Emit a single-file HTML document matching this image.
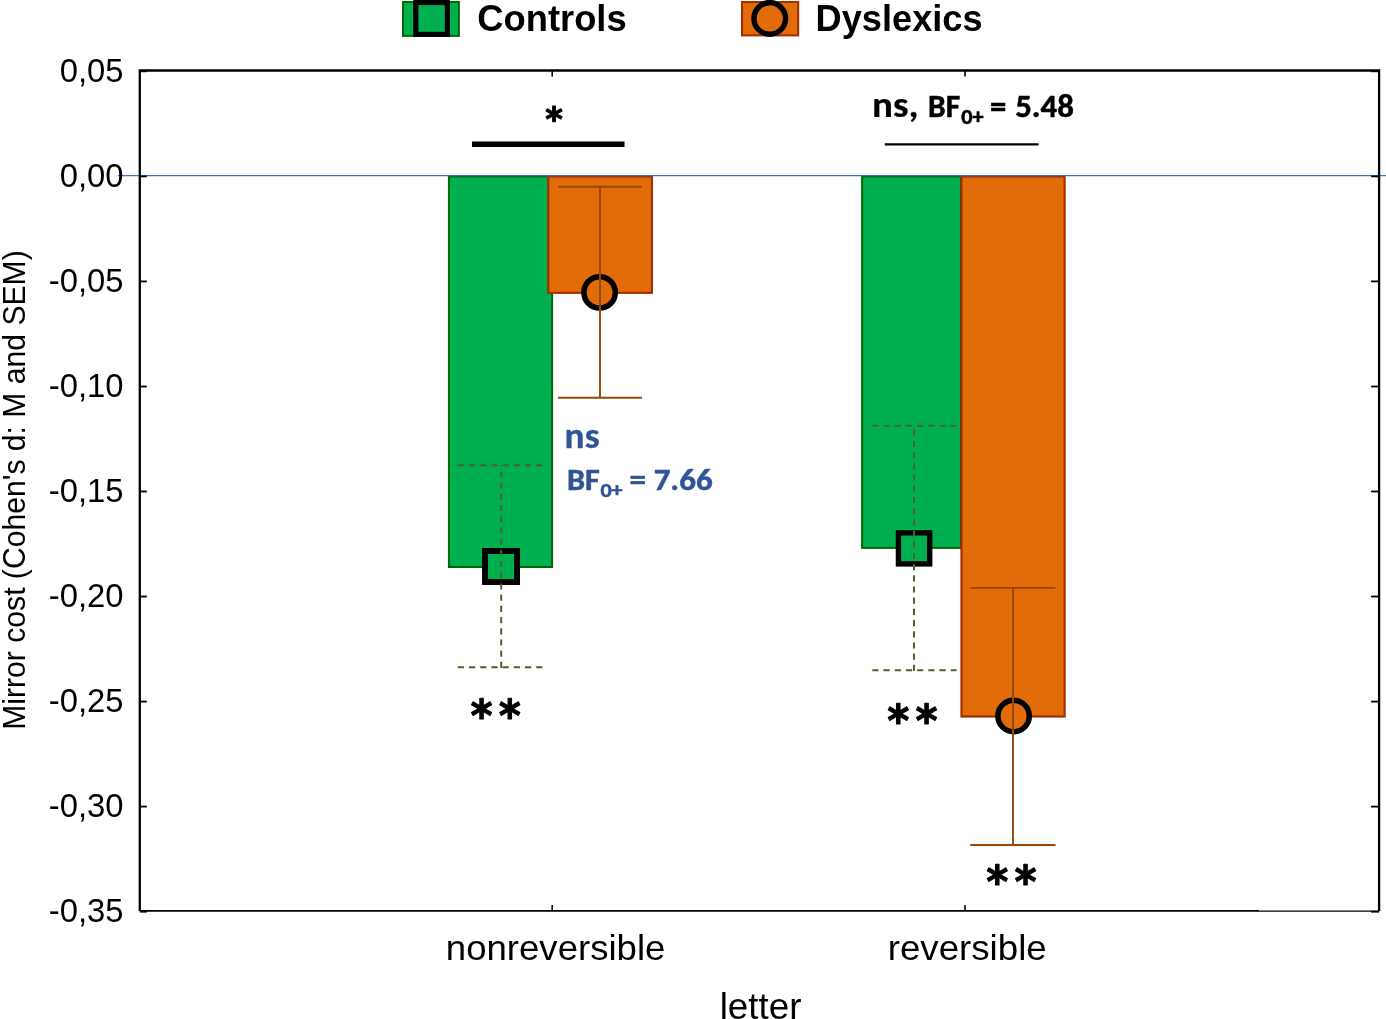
<!DOCTYPE html>
<html lang="en"><head><meta charset="utf-8"><title>Mirror cost chart</title>
<style>html,body{margin:0;padding:0;background:#fff;overflow:hidden}svg{display:block}.ar{font-family:"Liberation Sans",Arial,sans-serif}.st{font-family:"DejaVu Sans Mono","DejaVu Sans",sans-serif;font-weight:bold}.cb{font-family:Carlito,Calibri,"Liberation Sans",sans-serif;font-weight:bold}</style></head><body>
<svg width="1386" height="1019" viewBox="0 0 1386 1019">
<rect x="0" y="0" width="1386" height="1019" fill="#fff"/>
<rect x="448.9" y="176.45" width="103.20" height="390.55" fill="#00B050" stroke="#006800" stroke-width="2"/>
<rect x="548.3" y="176.45" width="103.65" height="116.40" fill="#E36C0A" stroke="#A52C00" stroke-width="2.1"/>
<rect x="862.1" y="176.45" width="98.90" height="371.45" fill="#00B050" stroke="#006800" stroke-width="2"/>
<rect x="961.5" y="176.45" width="103.10" height="540.05" fill="#E36C0A" stroke="#A52C00" stroke-width="2.2"/>
<line x1="118" y1="175.6" x2="1386" y2="175.6" stroke="#4472C4" stroke-width="1.15"/>
<g stroke="#000" fill="none">
<path d="M139.8 910.9 V70.5 H1379.1 V910.9" stroke-width="2.3" stroke-linejoin="miter"/>
<line x1="139.8" y1="910.9" x2="1259" y2="910.9" stroke-width="1.9"/>
<line x1="1259" y1="911.1" x2="1379.1" y2="911.1" stroke-width="1.3"/>
<line x1="139.8" y1="71.3" x2="146.8" y2="71.3" stroke-width="1.8"/>
<line x1="1371.1" y1="71.3" x2="1379.1" y2="71.3" stroke-width="1.8"/>
<line x1="139.8" y1="176.4" x2="146.8" y2="176.4" stroke-width="1.8"/>
<line x1="1371.1" y1="176.4" x2="1379.1" y2="176.4" stroke-width="1.8"/>
<line x1="139.8" y1="281.4" x2="146.8" y2="281.4" stroke-width="1.8"/>
<line x1="1371.1" y1="281.4" x2="1379.1" y2="281.4" stroke-width="1.8"/>
<line x1="139.8" y1="386.5" x2="146.8" y2="386.5" stroke-width="1.8"/>
<line x1="1371.1" y1="386.5" x2="1379.1" y2="386.5" stroke-width="1.8"/>
<line x1="139.8" y1="491.5" x2="146.8" y2="491.5" stroke-width="1.8"/>
<line x1="1371.1" y1="491.5" x2="1379.1" y2="491.5" stroke-width="1.8"/>
<line x1="139.8" y1="596.5" x2="146.8" y2="596.5" stroke-width="1.8"/>
<line x1="1371.1" y1="596.5" x2="1379.1" y2="596.5" stroke-width="1.8"/>
<line x1="139.8" y1="701.6" x2="146.8" y2="701.6" stroke-width="1.8"/>
<line x1="1371.1" y1="701.6" x2="1379.1" y2="701.6" stroke-width="1.8"/>
<line x1="139.8" y1="806.6" x2="146.8" y2="806.6" stroke-width="1.8"/>
<line x1="1371.1" y1="806.6" x2="1379.1" y2="806.6" stroke-width="1.8"/>
<line x1="139.8" y1="911.7" x2="146.8" y2="911.7" stroke-width="1.8"/>
<line x1="1371.1" y1="911.7" x2="1379.1" y2="911.7" stroke-width="1.8"/>
<line x1="552.2" y1="910.9" x2="552.2" y2="904.9" stroke-width="1.6"/>
<line x1="552.2" y1="70.5" x2="552.2" y2="76.5" stroke-width="1.6"/>
<line x1="965" y1="910.9" x2="965" y2="904.9" stroke-width="1.6"/>
<line x1="965" y1="70.5" x2="965" y2="76.5" stroke-width="1.6"/>
</g>
<g class="ar" font-size="32.8" text-anchor="end" fill="#000">
<text x="123.6" y="81.6">0,05</text>
<text x="123.6" y="186.7">0,00</text>
<text x="123.6" y="291.7">-0,05</text>
<text x="123.6" y="396.8">-0,10</text>
<text x="123.6" y="501.8">-0,15</text>
<text x="123.6" y="606.9">-0,20</text>
<text x="123.6" y="711.9">-0,25</text>
<text x="123.6" y="816.9">-0,30</text>
<text x="123.6" y="922.0">-0,35</text>
</g>
<text class="ar" font-size="30.5" transform="translate(24.6,490) rotate(-90)" text-anchor="middle" textLength="479.5" lengthAdjust="spacingAndGlyphs">Mirror cost (Cohen's d: M and SEM)</text>
<g class="ar" font-size="36" text-anchor="middle" fill="#000">
<text x="555.6" y="960.1" font-size="34.6" textLength="219.6" lengthAdjust="spacingAndGlyphs">nonreversible</text>
<text x="967.2" y="960.1" font-size="34.6" textLength="159" lengthAdjust="spacingAndGlyphs">reversible</text>
<text x="760.6" y="1018.5" textLength="81.8" lengthAdjust="spacingAndGlyphs">letter</text>
</g>
<rect x="485" y="551" width="32.05" height="31.05" fill="#00B050"/>
<rect x="898.45" y="532.85" width="31.25" height="31.05" fill="#00B050"/>
<circle cx="599.7" cy="292.6" r="15.5" fill="#E36C0A"/>
<circle cx="1013.6" cy="716" r="15.5" fill="#E36C0A"/>
<g stroke="#000" stroke-width="5.2" fill="none">
<rect x="485" y="551" width="32.05" height="31.05" stroke-width="5.9"/>
<rect x="898.45" y="532.85" width="31.25" height="31.05" stroke-width="5.4"/>
<circle cx="599.6" cy="292.4" r="15.7" stroke-width="5.5"/>
<circle cx="1013.6" cy="716" r="15.7" stroke-width="5.5"/>
</g>
<g stroke="#4F6228" stroke-width="2" fill="none" stroke-dasharray="6.2 5">
<path d="M457.8 465.2 H543.2 M501.2 668 V465.2 M457.8 667.2 H543.2"/>
<path d="M872.3 425.8 H956.5 M914 671 V425.8 M872.3 670.2 H956.5"/>
</g>
<g stroke="#974806" stroke-width="1.9" fill="none">
<path d="M558 186.7 H642 M600 186.7 V397.7 M558 397.7 H642"/>
<path d="M970.3 587.9 H1055.5 M1013 587.9 V845 M970.3 845 H1055.5"/>
</g>
<rect x="403" y="2" width="55.9" height="33.9" fill="#00B050" stroke="#006800" stroke-width="2"/>
<rect x="415.8" y="2.5" width="31.6" height="31.9" fill="#00B050" stroke="#000" stroke-width="5.2"/>
<rect x="742" y="2" width="56.2" height="33.4" fill="#E36C0A" stroke="#A52C00" stroke-width="2"/>
<circle cx="769.75" cy="18.4" r="15.8" fill="#E36C0A" stroke="#000" stroke-width="5.4"/>
<g class="ar" font-size="36" font-weight="bold" fill="#000">
<text x="477.2" y="31.4" textLength="149.5" lengthAdjust="spacingAndGlyphs">Controls</text>
<text x="815.6" y="31.4" textLength="167" lengthAdjust="spacingAndGlyphs">Dyslexics</text>
</g>
<line x1="472" y1="144.2" x2="624.5" y2="144.2" stroke="#000" stroke-width="5.6"/>
<line x1="884.8" y1="144.4" x2="1038.6" y2="144.4" stroke="#000" stroke-width="2.4"/>
<g class="cb" fill="#000" stroke="#000" stroke-linejoin="round">
<text x="871.96" y="116.8" font-size="36.5" textLength="46.54" lengthAdjust="spacingAndGlyphs" stroke-width="0.2">ns,</text>
<text x="928.05" y="116.8" font-size="33" textLength="32.09" lengthAdjust="spacingAndGlyphs" stroke-width="0.5">BF</text>
<text x="961.2" y="124" font-size="22" textLength="22.36" lengthAdjust="spacingAndGlyphs" stroke-width="0.5">0+</text>
<text x="990.11" y="116.8" font-size="33" textLength="16.33" lengthAdjust="spacingAndGlyphs" stroke-width="0.5">=</text>
<text x="1015.2" y="116.8" font-size="33" textLength="58.72" lengthAdjust="spacingAndGlyphs" stroke-width="0.5">5.48</text>
</g>
<g class="st" fill="#000" stroke="#000" stroke-width="1.1" stroke-linejoin="round" text-anchor="middle">
<text x="554" y="130.7" font-size="33.5">*</text>
<text x="481.5" y="731.00" font-size="45" textLength="25.2" lengthAdjust="spacingAndGlyphs">*</text>
<text x="509.8" y="731.00" font-size="45" textLength="25.2" lengthAdjust="spacingAndGlyphs">*</text>
<text x="898.25" y="736.25" font-size="45" textLength="25.2" lengthAdjust="spacingAndGlyphs">*</text>
<text x="926.6" y="736.25" font-size="45" textLength="25.2" lengthAdjust="spacingAndGlyphs">*</text>
<text x="997.4" y="897.00" font-size="45" textLength="25.2" lengthAdjust="spacingAndGlyphs">*</text>
<text x="1025.6" y="897.00" font-size="45" textLength="25.2" lengthAdjust="spacingAndGlyphs">*</text>
</g>
<g class="cb" fill="#2F5597" stroke="#2F5597" stroke-linejoin="round">
<text x="564.62" y="448.3" font-size="35.5" textLength="34.95" lengthAdjust="spacingAndGlyphs" stroke-width="0.3">ns</text>
<text x="567.09" y="489.5" font-size="31" textLength="32.8" lengthAdjust="spacingAndGlyphs" stroke-width="0.5">BF</text>
<text x="600.4" y="497" font-size="20.8" textLength="22.28" lengthAdjust="spacingAndGlyphs" stroke-width="0.5">0+</text>
<text x="629.56" y="489.5" font-size="31" textLength="16.62" lengthAdjust="spacingAndGlyphs" stroke-width="0.5">=</text>
<text x="653.67" y="489.5" font-size="31" textLength="58.96" lengthAdjust="spacingAndGlyphs" stroke-width="0.5">7.66</text>
</g>
</svg></body></html>
